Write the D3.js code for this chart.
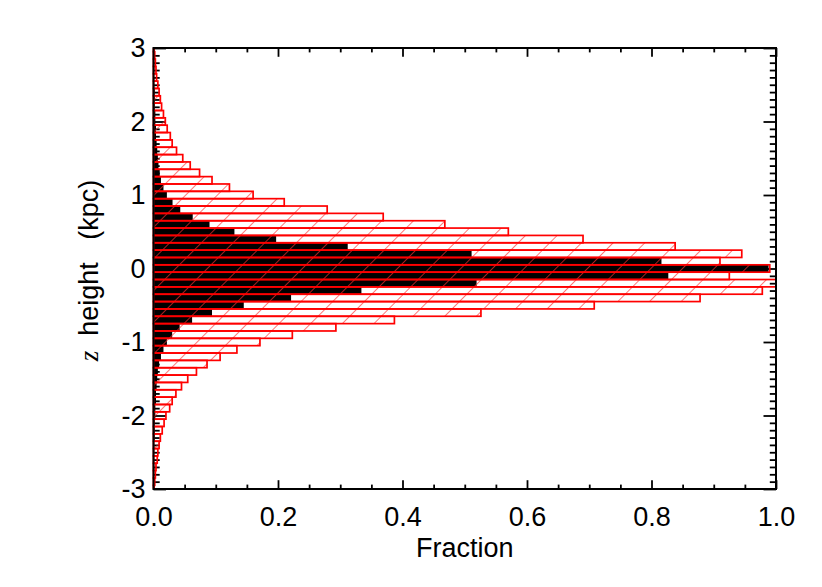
<!DOCTYPE html>
<html>
<head>
<meta charset="utf-8">
<script src="https://cdn.jsdelivr.net/npm/d3@7"></script>
<style>
  body { margin: 0; background: #fff; }
  svg { display: block; }
  text { font-family: "Liberation Sans", Arial, sans-serif; fill: #000; }
</style>
</head>
<body>
<svg id="chart" width="822" height="587"></svg>
<script>
// bin centres (kpc), top to bottom
const zBins = [3.0, 2.9, 2.8, 2.7, 2.6, 2.5, 2.4, 2.3, 2.2, 2.1, 2.0, 1.9, 1.8, 1.7, 1.6, 1.5, 1.4, 1.3, 1.2, 1.1,
  1.0, 0.9, 0.8, 0.7, 0.6, 0.5, 0.4, 0.3, 0.2, 0.1, 0.0, -0.1, -0.2, -0.3, -0.4, -0.5, -0.6, -0.7, -0.8, -0.9,
  -1.0, -1.1, -1.2, -1.3, -1.4, -1.5, -1.6, -1.7, -1.8, -1.9, -2.0, -2.1, -2.2, -2.3, -2.4, -2.5, -2.6, -2.7, -2.8, -2.9, -3.0];

// red hatched histogram
const redFrac = [0.001, 0.002, 0.003, 0.004, 0.005, 0.007, 0.009, 0.011, 0.013, 0.016, 0.019, 0.022, 0.027, 0.030, 0.037, 0.047, 0.059, 0.074, 0.094, 0.122,
  0.160, 0.210, 0.279, 0.369, 0.468, 0.570, 0.690, 0.838, 0.945, 0.910, 0.990, 0.925, 1.000, 0.978, 0.878, 0.708, 0.526, 0.387, 0.293, 0.223,
  0.171, 0.134, 0.107, 0.086, 0.069, 0.055, 0.045, 0.036, 0.030, 0.026, 0.020, 0.017, 0.014, 0.011, 0.009, 0.007, 0.006, 0.004, 0.003, 0.002, 0.001];

// black filled histogram
const blackFrac = [0.000, 0.000, 0.001, 0.001, 0.001, 0.001, 0.002, 0.002, 0.002, 0.003, 0.003, 0.004, 0.004, 0.005, 0.006, 0.007, 0.008, 0.010, 0.012, 0.016,
  0.0215, 0.0306, 0.043, 0.063, 0.090, 0.130, 0.197, 0.312, 0.511, 0.816, 0.988, 0.827, 0.519, 0.334, 0.221, 0.145, 0.094, 0.062, 0.042, 0.030,
  0.0215, 0.016, 0.012, 0.009, 0.007, 0.006, 0.005, 0.004, 0.004, 0.003, 0.003, 0.002, 0.002, 0.002, 0.001, 0.001, 0.001, 0.001, 0.000, 0.000, 0.000];

const xMajor = [0.0, 0.2, 0.4, 0.6, 0.8, 1.0];
const xMinor = [0.05, 0.1, 0.15, 0.25, 0.3, 0.35, 0.45, 0.5, 0.55, 0.65, 0.7, 0.75, 0.85, 0.9, 0.95];
const yMajor = [3, 2, 1, 0, -1, -2, -3];
const binHalf = 0.05;

const svg = d3.select("#chart");
const L = 153.5, R = 776, T = 48, B = 489;

const x = d3.scaleLinear().domain([0, 1]).range([L, R]);
const y = d3.scaleLinear().domain([-3, 3]).range([B, T]);

const defs = svg.append("defs");
defs.append("clipPath").attr("id", "plotClip")
  .append("rect").attr("x", L - 2).attr("y", T).attr("width", R - L + 4).attr("height", B - T);

const hatch = defs.append("pattern")
  .attr("id", "hatch")
  .attr("patternUnits", "userSpaceOnUse")
  .attr("width", 22.4).attr("height", 22.4)
  .attr("patternTransform", "rotate(45)");
hatch.append("line")
  .attr("x1", 0).attr("y1", -5).attr("x2", 0).attr("y2", 30)
  .attr("stroke", "#ff3030").attr("stroke-width", 1.3);

// axes (ticks point inward)
const yMinor = d3.range(-30, 31).filter(d => d % 10 !== 0).map(d => d / 10);

function axisGroup(axis, tx, ty) {
  const g = svg.append("g").attr("transform", `translate(${tx},${ty})`).call(axis);
  g.select(".domain").remove();
  g.selectAll(".tick line").attr("stroke", "#000").attr("stroke-width", 1.8);
  return g;
}

const fmtX = d3.format(".1f");
const gxb = axisGroup(d3.axisBottom(x).tickValues(xMajor).tickSize(-8.8).tickPadding(18).tickFormat(fmtX), 0, B);
axisGroup(d3.axisBottom(x).tickValues(xMinor).tickSize(-4.4).tickFormat(""), 0, B);
axisGroup(d3.axisTop(x).tickValues(xMajor).tickSize(-8.8).tickFormat(""), 0, T);
axisGroup(d3.axisTop(x).tickValues(xMinor).tickSize(-4.4).tickFormat(""), 0, T);

const gyl = axisGroup(d3.axisLeft(y).tickValues(yMajor).tickSize(-12.5).tickPadding(8).tickFormat(d => d < 0 ? "-" + Math.abs(d) : String(d)), L, 0);
axisGroup(d3.axisLeft(y).tickValues(yMinor).tickSize(-6.2).tickFormat(""), L, 0);
axisGroup(d3.axisRight(y).tickValues(yMajor).tickSize(-12.5).tickFormat(""), R, 0);
axisGroup(d3.axisRight(y).tickValues(yMinor).tickSize(-6.2).tickFormat(""), R, 0);

gxb.selectAll("text").attr("font-size", 27).attr("font-family", "Liberation Sans, Arial, sans-serif");
gyl.selectAll("text").attr("font-size", 27).attr("font-family", "Liberation Sans, Arial, sans-serif");

// bars
const rows = zBins.map((z, i) => ({ z, red: redFrac[i], black: blackFrac[i] }));
const bars = svg.append("g").attr("clip-path", "url(#plotClip)");

bars.selectAll("rect.black")
  .data(rows)
  .enter().append("rect")
  .attr("class", "black")
  .attr("x", x(0))
  .attr("y", d => y(d.z + binHalf))
  .attr("width", d => x(d.black) - x(0))
  .attr("height", d => y(d.z - binHalf) - y(d.z + binHalf))
  .attr("fill", "#000");

bars.selectAll("rect.red")
  .data(rows)
  .enter().append("rect")
  .attr("class", "red")
  .attr("x", x(0))
  .attr("y", d => y(d.z + binHalf))
  .attr("width", d => x(d.red) - x(0))
  .attr("height", d => y(d.z - binHalf) - y(d.z + binHalf))
  .attr("fill", "url(#hatch)")
  .attr("stroke", "#ff0000")
  .attr("stroke-width", 1.7);

// frame
svg.append("rect")
  .attr("x", L).attr("y", T)
  .attr("width", R - L).attr("height", B - T)
  .attr("fill", "none").attr("stroke", "#000").attr("stroke-width", 2);

// axis titles
svg.append("text")
  .attr("x", (L + R) / 2).attr("y", 557)
  .attr("text-anchor", "middle")
  .attr("font-size", 27)
  .text("Fraction");

const yt = svg.append("text")
  .attr("transform", `translate(98,${(T + B) / 2 + 2}) rotate(-90)`)
  .attr("text-anchor", "middle")
  .attr("font-size", 27)
  .style("white-space", "pre");
yt.append("tspan").attr("font-family", "Liberation Serif, serif").attr("font-style", "italic").text("z");
yt.append("tspan").text("  height   (kpc)");
</script>
</body>
</html>
